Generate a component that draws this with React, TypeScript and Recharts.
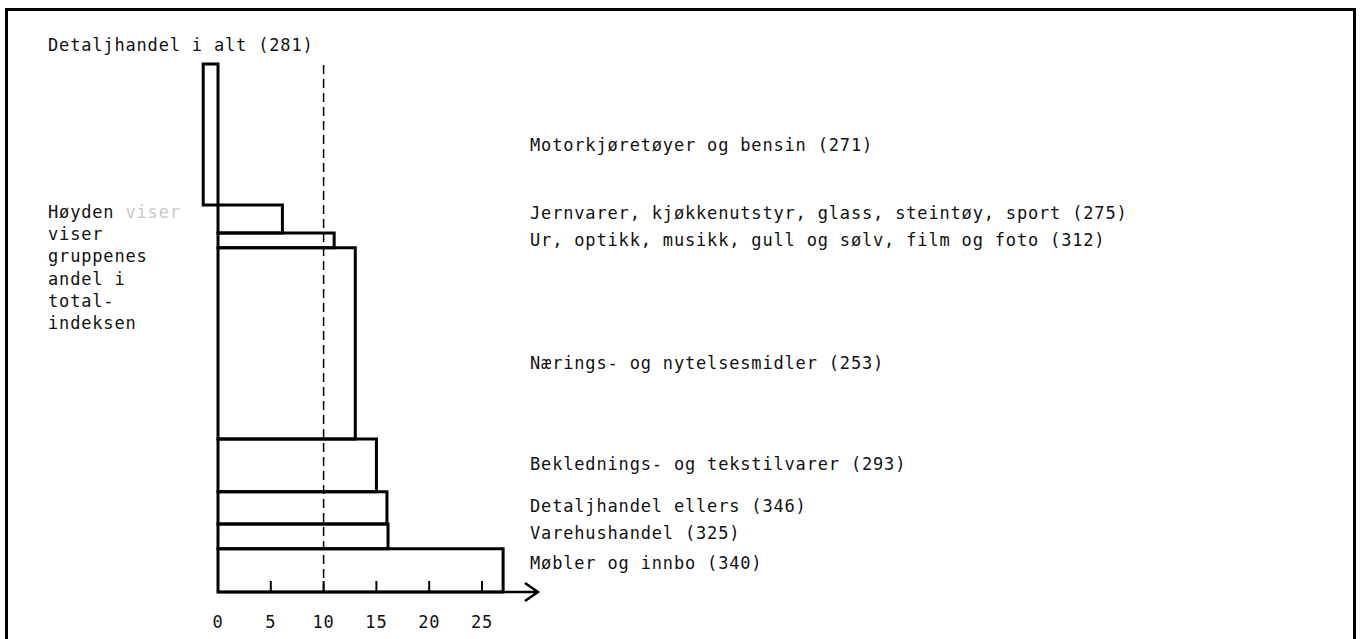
import {
  ComposedChart,
  XAxis,
  YAxis,
  Scatter,
  ReferenceArea,
  ReferenceLine,
} from "recharts";

// groups top to bottom, with CPI in brackets
const GROUPS = [
  "Motorkjøretøyer og bensin (271)",
  "Jernvarer, kjøkkenutstyr, glass, steintøy, sport (275)",
  "Ur, optikk, musikk, gull og sølv, film og foto (312)",
  "Nærings- og nytelsesmidler (253)",
  "Beklednings- og tekstilvarer (293)",
  "Detaljhandel ellers (346)",
  "Varehushandel (325)",
  "Møbler og innbo (340)",
];
// bar length (x axis)
const CHANGE = [-1.4, 6.1, 11.0, 13.0, 15.0, 16.0, 16.1, 27.0];
// bar height = share of the total index (%)
const SHARE = [26.7, 5.3, 2.8, 36.2, 10.0, 6.1, 4.7, 8.2];
const TOTAL_LABEL = "Detaljhandel i alt (281)";
const TOTAL_CHANGE = 10.0;
const X_TICKS = [0, 5, 10, 15, 20, 25];
const NOTE = ["Høyden", "viser", "gruppenes", "andel i", "total-", "indeksen"];

// layout
const X_DOMAIN: [number, number] = [-2, 106];
const Y_MAX = 110.23;
const LABEL_X = 29.55;
const ARROW_END = 30.3;
const LABEL_NUDGE = [10.5, -6, 0, 20, -1.5, -2, -3.5, -7.5];

const FONT = {
  fontFamily: "'DejaVu Sans Mono', monospace",
  fontSize: 17,
  letterSpacing: 0.83,
  fill: "#111",
};

// stack from the bottom up
const bars = GROUPS.map((name, i) => {
  const top = SHARE.slice(i).reduce((s, v) => s + v, 0);
  return { name, value: CHANGE[i], y1: top - SHARE[i], y2: top };
});
const labelRows = bars.map((b, i) => ({
  x: LABEL_X,
  y: (b.y1 + b.y2) / 2,
  label: b.name,
  nudge: LABEL_NUDGE[i],
}));
const stackTop = SHARE.reduce((s, v) => s + v, 0);

const AxisTick = (props: any) => {
  const { x, y, payload } = props;
  return (
    <g>
      <line x1={x} x2={x} y1={y} y2={y - 11} stroke="#000" strokeWidth={2} />
      <text x={x} y={y + 29.5} textAnchor="middle" dominantBaseline="central" style={FONT}>
        {payload.value}
      </text>
    </g>
  );
};

const ArrowAxis = (p: any) => {
  const { x1, y1, x2, y2 } = p;
  return (
    <g>
      <line x1={x1} y1={y1} x2={x2} y2={y2} stroke="#000" strokeWidth={2.5} />
      <polyline
        points={`${x2 - 13},${y2 - 9} ${x2},${y2} ${x2 - 13},${y2 + 9}`}
        fill="none"
        stroke="#000"
        strokeWidth={2.5}
      />
    </g>
  );
};

const GroupLabel = (p: any) => (
  <text
    x={p.cx}
    y={p.cy + p.payload.nudge}
    dominantBaseline="central"
    style={FONT}
  >
    {p.payload.label}
  </text>
);

export default function App() {
  const textStyle = {
    position: "absolute" as const,
    fontFamily: "'DejaVu Sans Mono', monospace",
    fontSize: 17,
    letterSpacing: 0.83,
    color: "#111",
    whiteSpace: "pre" as const,
  };

  return (
    <div
      style={{
        position: "absolute",
        left: 0,
        top: 0,
        width: 1361,
        height: 639,
        overflow: "hidden",
        background: "#fff",
      }}
    >
      <div
        style={{
          position: "absolute",
          left: 5,
          top: 8,
          width: 1345,
          height: 700,
          borderTop: "3px solid #000",
          borderLeft: "3px solid #000",
          borderRight: "3px solid #000",
        }}
      />
      <div style={{ ...textStyle, left: 48, top: 34, lineHeight: "22px" }}>
        {TOTAL_LABEL}
      </div>
      <div style={{ ...textStyle, left: 48, top: 201, lineHeight: "22.2px" }}>
        {NOTE[0]}
        <span style={{ color: "#c8c8c8" }}> viser</span>
        {"\n" + NOTE.slice(1).join("\n")}
      </div>
      <div style={{ position: "absolute", left: 0, top: 0 }}>
        <ComposedChart
          width={1361}
          height={639}
          margin={{ top: 10, right: 23.64, bottom: 0, left: 196.88 }}
        >
          <XAxis
            type="number"
            dataKey="x"
            domain={X_DOMAIN}
            allowDataOverflow
            ticks={X_TICKS}
            interval={0}
            axisLine={false}
            tickLine={false}
            tickSize={0}
            tickMargin={0}
            height={47}
            tick={<AxisTick />}
          />
          <YAxis type="number" dataKey="y" domain={[0, Y_MAX]} allowDataOverflow hide />
          {bars.map((b) => (
            <ReferenceArea
              key={b.name}
              x1={Math.min(0, b.value)}
              x2={Math.max(0, b.value)}
              y1={b.y1}
              y2={b.y2}
              fill="none"
              stroke="#000"
              strokeWidth={3}
            />
          ))}
          <ReferenceLine
            segment={[
              { x: TOTAL_CHANGE, y: 0 },
              { x: TOTAL_CHANGE, y: stackTop + 0.2 },
            ]}
            stroke="#000"
            strokeWidth={1.5}
            strokeDasharray="9 5"
          />
          <ReferenceLine
            segment={[
              { x: 0, y: 0 },
              { x: ARROW_END, y: 0 },
            ]}
            shape={ArrowAxis}
          />
          <Scatter
            data={labelRows}
            dataKey="y"
            isAnimationActive={false}
            shape={GroupLabel}
          />
        </ComposedChart>
      </div>
    </div>
  );
}
